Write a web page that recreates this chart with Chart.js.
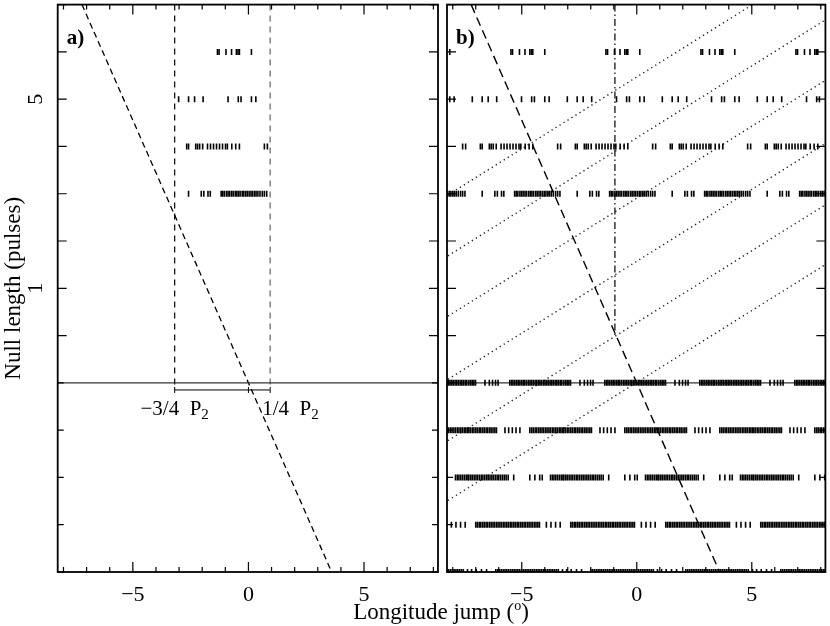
<!DOCTYPE html>
<html>
<head>
<meta charset="utf-8">
<script src="https://cdn.jsdelivr.net/npm/chart.js@4.4.1/dist/chart.umd.min.js"></script>
<style>
html,body{margin:0;padding:0;background:#fff;}
#wrap{position:relative;width:830px;height:626px;overflow:hidden;background:#fff;}
#wrap canvas{position:absolute;left:0;top:0;}
#xtitle{position:absolute;left:0;width:882px;top:600px;text-align:center;font-family:"Liberation Serif",serif;font-size:23px;color:#000;line-height:1;white-space:nowrap;}
#xtitle span{font-size:14px;position:relative;top:-9px;}
</style>
</head>
<body>
<div id="wrap">
<canvas id="left" width="830" height="626"></canvas>
<canvas id="right" width="830" height="626"></canvas>
<div id="xtitle">Longitude jump (<span>o</span>)</div>
</div>
<script>
// ---------------- data ----------------
const P2 = 4.13;                       // folding period (deg)
const windowLo = -3.19, windowHi = 0.94; // -3/4 P2 and 1/4 P2 markers
const xTickLabels = [-5, 0, 5];
const xMinorTicks = [-8,-7,-6,-5,-4,-3,-2,-1,0,1,2,3,4,5,6,7,8];
const yTicks = [-5,-4,-3,-2,-1,0,1,2,3,4,5,6,7];
const yTickLabels = [5, 1];

// null rows (longitude jumps, deg) for null lengths shown at levels 6..3
const null6 = [-1.34, -1.27, -0.97, -0.73, -0.52, -0.45, -0.39, 0.13];
const null5 = [-3.02, -2.59, -2.33, -1.96, -0.88, -0.44, -0.32, 0.13, 0.32];
const null4 = [-2.67, -2.59, -2.28, -2.20, -2.11, -1.98, -1.77, -1.64, -1.51, -1.38, -1.25, -1.12, -0.99, -0.91, -0.72, -0.55, -0.39, 0.69, 0.82];
const null3 = [-2.59, -2.04, -1.93, -1.75, -1.65, -1.18, -1.11, -1.04, -0.95, -0.88, -0.81, -0.73, -0.66, -0.57, -0.50, -0.43, -0.36, -0.27, -0.20, -0.12, -0.05, 0.03, 0.11, 0.18, 0.26, 0.33, 0.41, 0.50, 0.60, 0.69, 0.79];
const nullLevels = [6, 5, 4, 3];

// lower rows of panel b (one folding period each)
const burst1 = [-3.17,-3.09,-3.02,-2.95,-2.88,-2.47,-2.28,-2.14,-2.01,-1.90,-1.39,-1.31,-1.25,-1.17,-1.09,-1.02,-0.95,-0.87,-0.80,-0.74,-0.66,-0.58,-0.51,-0.44,-0.37,-0.29,-0.22,-0.15,-0.08,-0.01,0.07,0.14,0.21,0.28,0.36,0.43,0.50,0.58,0.65,0.72,0.80,0.87];
const burst2 = [-3.17,-3.10,-3.02,-2.95,-2.87,-2.80,-2.72,-2.65,-2.57,-2.50,-2.42,-2.35,-2.27,-2.20,-2.12,-2.04,-1.97,-1.60,-1.44,-1.28,-1.12,-0.95,-0.52,-0.44,-0.37,-0.29,-0.22,-0.14,-0.07,0.01,0.08,0.16,0.23,0.31,0.38,0.46,0.53,0.61,0.68,0.76,0.83,0.90];
const burst3 = [-3.17,-3.09,-3.02,-2.94,-2.86,-2.79,-2.71,-2.63,-2.56,-2.48,-2.40,-2.33,-2.25,-2.17,-2.10,-2.02,-1.94,-1.87,-1.79,-1.71,-1.63,-1.55,-1.46,-1.22,-0.52,-0.30,-0.09,0.02,0.38,0.46,0.53,0.61,0.69,0.77,0.85,0.92];
const burst4 = [-2.87,-2.80,-2.72,-2.65,-2.57,-2.50,-2.42,-2.35,-2.27,-2.20,-2.12,-2.05,-1.97,-1.90,-1.82,-1.75,-1.67,-1.60,-1.52,-1.45,-1.37,-1.30,-1.22,-1.15,-1.07,-1.00,-0.92,-0.85,-0.77,-0.70,-0.62,-0.55,-0.47,-0.40,-0.32,-0.25,-0.17,-0.10,0.20,0.40,0.60,0.80];
const burst5 = [-3.05,-2.85,-2.62,-2.40,-2.00,-1.92,-1.84,-1.76,-1.68,-1.60,-1.52,-1.44,-1.36,-1.28,-1.20,-1.12,-1.04,-0.96,-0.88,-0.80,-0.72,-0.64,-0.56,-0.48,-0.40,-0.32,-0.24,-0.16,-0.08,0.00,0.08,0.16,0.24,0.32,0.40,0.48,0.56,0.64,0.72,0.90];
const burstLevels = [-1, -2, -3, -4, -5];

// guide lines
const driftX = [-7.2, 3.6], driftY = [7, -5];      // steep dashed line
const baseLineY = -1;                               // solid horizontal line
const bracketY = -1.15;                             // P2 bracket
const dashDotX = -0.95, dashDotY = [7, 0];          // vertical dash-dot line (panel b)
const dotSlope = 0.304;                             // dotted lines: y = slope*(x - x0)
const dotX0 = [-17.99, -13.76, -9.56, -5.17, -0.90, 3.26];

const xMin = -8.25, xMax = 8.2, yMin = -5, yMax = 7;
// -------------------------------------------------------------

const SERIF = '"Liberation Serif", "Times New Roman", serif';
const fmt = v => (v < 0 ? '\u2212' + Math.abs(v) : String(v));

function rowPoints(levels, rows, tileIt) {
  const pts = [];
  rows.forEach((vals, i) => {
    vals.forEach(v => {
      if (!tileIt) { pts.push({x: v, y: levels[i]}); return; }
      for (let k = -3; k <= 3; k++) {
        const x = v + k * P2;
        if (x >= xMin - 0.05 && x <= xMax + 0.05) pts.push({x, y: levels[i]});
      }
    });
  });
  return pts;
}

function tickDs(data) {
  return {data, showLine: false, pointStyle: 'line', pointRotation: 90, pointRadius: 3,
    pointHoverRadius: 3, pointBorderWidth: 1.6, pointBorderColor: '#000', clip: 0};
}
function lineDs(data, color, width, dash) {
  return {data, showLine: true, pointRadius: 0, pointHoverRadius: 0, borderColor: color,
    borderWidth: width, borderDash: dash || [], fill: false, clip: 0, tension: 0};
}

const frameTicks = {
  id: 'frameTicks',
  afterDatasetsDraw(chart) {
    const {ctx, chartArea: a, scales: {x, y}} = chart;
    ctx.save();
    ctx.strokeStyle = '#000';
    ctx.lineWidth = 1.2;
    ctx.beginPath();
    xMinorTicks.forEach(v => {
      const px = x.getPixelForValue(v);
      const L = xTickLabels.includes(v) ? 10 : 5;
      ctx.moveTo(px, a.bottom); ctx.lineTo(px, a.bottom - L);
      ctx.moveTo(px, a.top); ctx.lineTo(px, a.top + L);
    });
    yTicks.forEach(v => {
      const py = y.getPixelForValue(v);
      const L = v >= 0 ? 9 : 6;
      ctx.moveTo(a.left, py); ctx.lineTo(a.left + L, py);
      ctx.moveTo(a.right, py); ctx.lineTo(a.right - L, py);
    });
    ctx.stroke();
    ctx.lineWidth = 1.8;
    ctx.strokeRect(a.left, a.top, a.right - a.left, a.bottom - a.top);
    ctx.restore();
  }
};

const textLabels = {
  id: 'textLabels',
  afterDraw(chart, args, opts) {
    const {ctx, scales: {x, y}} = chart;
    ctx.save();
    ctx.fillStyle = '#000';
    ctx.textBaseline = 'alphabetic';
    ctx.textAlign = 'left';
    (opts.items || []).forEach(it => {
      const px = x.getPixelForValue(it.x) + (it.dx || 0);
      const py = y.getPixelForValue(it.y) + (it.dy || 0);
      ctx.font = it.font;
      const w1 = ctx.measureText(it.text).width;
      let w2 = 0;
      if (it.sub) { ctx.font = it.subFont; w2 = ctx.measureText(it.sub).width; }
      let sx = px;
      if (it.align === 'center') sx = px - (w1 + w2) / 2;
      ctx.font = it.font;
      ctx.fillText(it.text, sx, py);
      if (it.sub) { ctx.font = it.subFont; ctx.fillText(it.sub, sx + w1, py + 4); }
    });
    ctx.restore();
  }
};

function zeroPad(s) { s.paddingTop = 0; s.paddingBottom = 0; s.paddingLeft = 0; s.paddingRight = 0; }

function baseOptions(padLeft, padRight, showY) {
  return {
    responsive: false, animation: false, devicePixelRatio: 1,
    events: [],
    layout: {padding: {left: padLeft, right: padRight, top: 1.5, bottom: 0}},
    plugins: {legend: {display: false}, tooltip: {enabled: false}},
    scales: {
      x: {
        type: 'linear', min: xMin, max: xMax,
        grid: {display: false, drawTicks: false}, border: {display: false},
        afterBuildTicks: s => { s.ticks = xTickLabels.map(v => ({value: v})); },
        afterFit: s => { s.height = 54; zeroPad(s); },
        ticks: {callback: v => fmt(v), font: {family: SERIF, size: 22}, color: '#000', padding: 10, maxRotation: 0, autoSkip: false}
      },
      y: {
        type: 'linear', min: yMin, max: yMax,
        grid: {display: false, drawTicks: false}, border: {display: false},
        afterBuildTicks: s => { s.ticks = showY ? yTickLabels.map(v => ({value: v})) : []; },
        afterFit: s => { s.width = showY ? 57.7 : 0; zeroPad(s); },
        ticks: {display: showY, callback: v => fmt(v), font: {family: SERIF, size: 22}, color: '#000',
          minRotation: 90, maxRotation: 90, crossAlign: 'center', padding: 16},
        title: {display: showY, text: 'Null length (pulses)', font: {family: SERIF, size: 23}, color: '#000', padding: {top: 0.5, bottom: 0}}
      }
    }
  };
}

// ---------- panel a ----------
const leftData = {
  datasets: [
    tickDs(rowPoints(nullLevels, [null6, null5, null4, null3], false)),
    lineDs([{x: xMin, y: baseLineY}, {x: xMax, y: baseLineY}], '#333', 1.3),
    lineDs([{x: windowLo, y: yMax}, {x: windowLo, y: bracketY}], '#000', 1.2, [6, 5]),
    lineDs([{x: windowHi, y: yMax}, {x: windowHi, y: bracketY}], '#888', 1.6, [6, 5]),
    lineDs([{x: driftX[0], y: driftY[0]}, {x: driftX[1], y: driftY[1]}], '#000', 1.3, [6, 4]),
    lineDs([{x: windowLo, y: bracketY}, {x: windowHi, y: bracketY}], '#000', 1),
    Object.assign(tickDs([{x: windowLo, y: bracketY}, {x: 0, y: bracketY}, {x: windowHi, y: bracketY}]), {pointBorderWidth: 1})
  ]
};
const leftOpts = baseOptions(0, 830 - 438, true);
leftOpts.plugins.textLabels = {items: [
  {text: 'a)', x: xMin, y: yMax, dx: 9, dy: 39.5, font: 'bold 21px ' + SERIF},
  {text: '\u22123/4\u2002P', sub: '2', x: windowLo, y: bracketY, dy: 25, align: 'center', font: '21px ' + SERIF, subFont: '15px ' + SERIF},
  {text: '1/4\u2002P', sub: '2', x: windowHi, y: bracketY, dy: 25, dx: -8, font: '21px ' + SERIF, subFont: '15px ' + SERIF}
]};
new Chart(document.getElementById('left'), {type: 'scatter', data: leftData, options: leftOpts, plugins: [frameTicks, textLabels]});

// ---------- panel b ----------
const dotDs = dotX0.map(x0 => lineDs([{x: xMin - 1, y: dotSlope * (xMin - 1 - x0)}, {x: xMax + 1, y: dotSlope * (xMax + 1 - x0)}], '#222', 1.4, [1.3, 3.4]));
const rightData = {
  datasets: [
    tickDs(rowPoints(nullLevels, [null6, null5, null4, null3], true)),
    tickDs(rowPoints(burstLevels, [burst1, burst2, burst3, burst4, burst5], true)),
    lineDs([{x: xMin, y: baseLineY}, {x: xMax, y: baseLineY}], '#333', 1.3),
    lineDs([{x: driftX[0], y: driftY[0]}, {x: driftX[1], y: driftY[1]}], '#000', 1.4, [9, 5]),
    lineDs([{x: dashDotX, y: dashDotY[0]}, {x: dashDotX, y: dashDotY[1]}], '#000', 1.2, [7, 3, 1.5, 3]),
    ...dotDs
  ]
};
const rightOpts = baseOptions(447, 1, false);
rightOpts.plugins.textLabels = {items: [
  {text: 'b)', x: xMin, y: yMax, dx: 9, dy: 39.5, font: 'bold 21px ' + SERIF}
]};
new Chart(document.getElementById('right'), {type: 'scatter', data: rightData, options: rightOpts, plugins: [frameTicks, textLabels]});
</script>
</body>
</html>
